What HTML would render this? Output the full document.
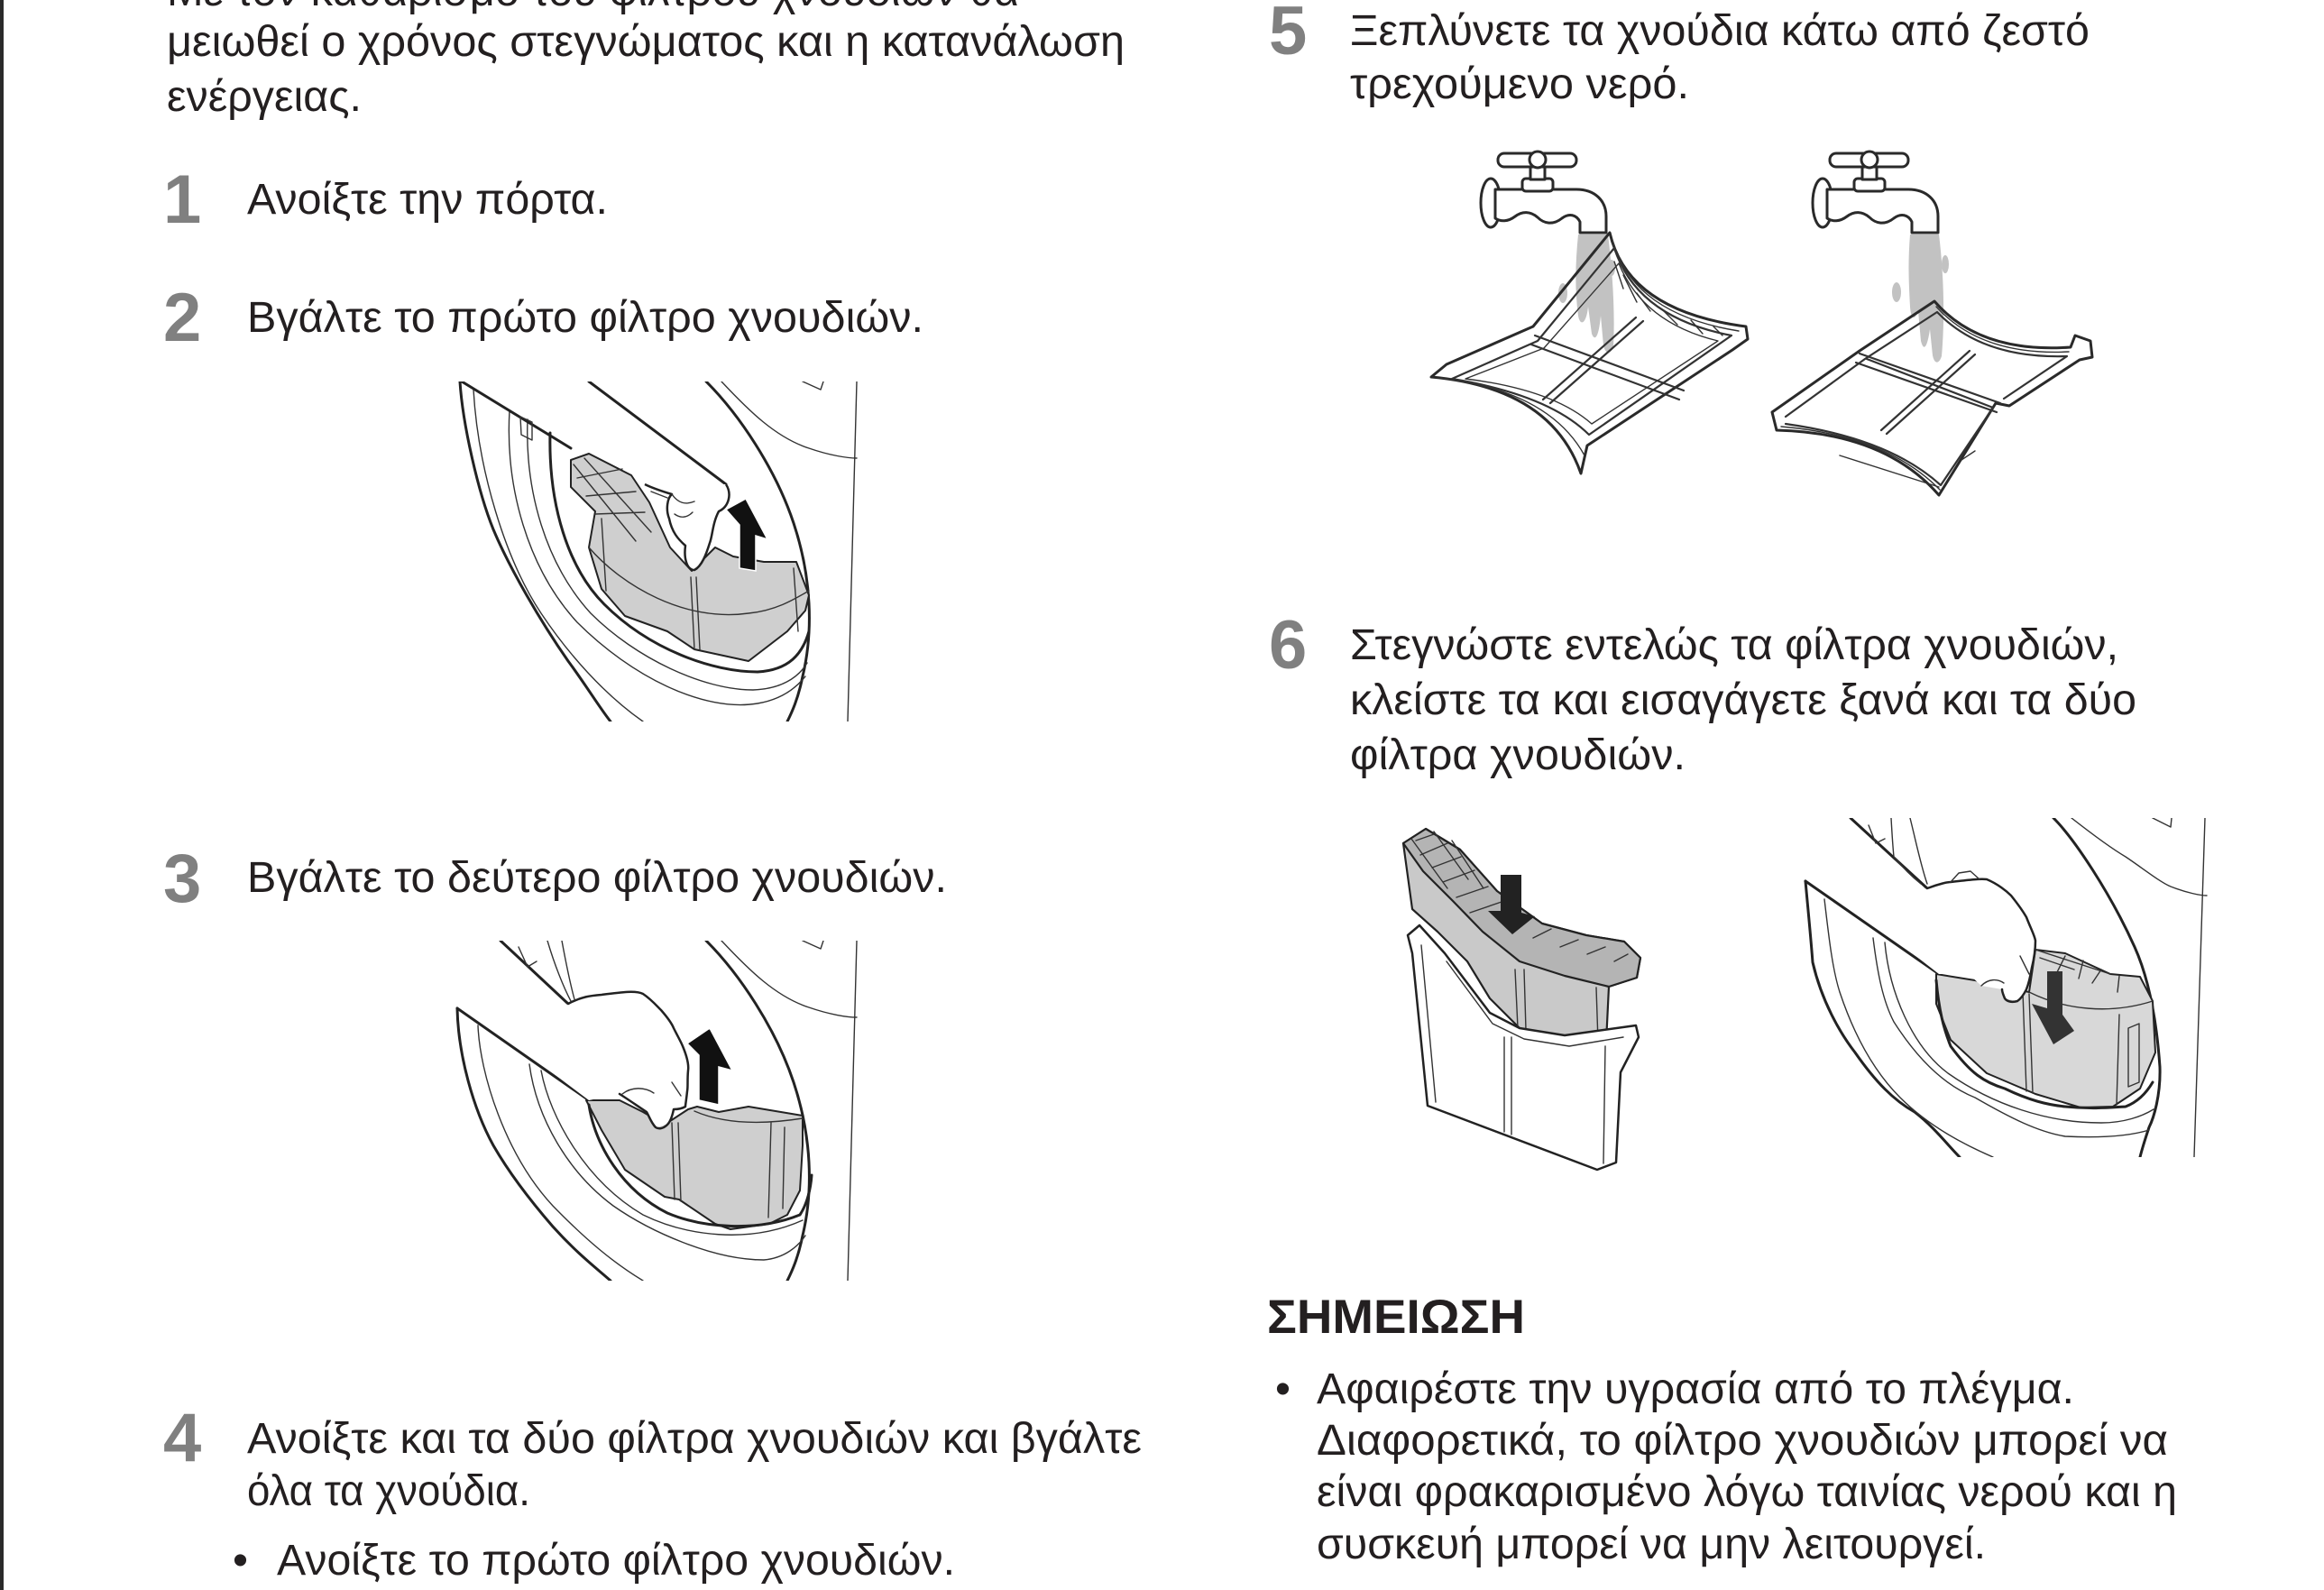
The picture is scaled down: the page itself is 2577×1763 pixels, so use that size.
<!DOCTYPE html>
<html>
<head>
<meta charset="utf-8">
<style>
html,body{margin:0;padding:0;background:#fff;}
body{width:2577px;height:1763px;overflow:hidden;position:relative;}
svg{position:absolute;left:0;top:0;}
.t{font-family:"Liberation Sans","DejaVu Sans",sans-serif;font-size:48.5px;fill:#231f20;}
.n{font-family:"Liberation Sans","DejaVu Sans",sans-serif;font-size:76px;font-weight:bold;fill:#808080;}
.h{font-family:"Liberation Sans","DejaVu Sans",sans-serif;font-size:53px;font-weight:bold;fill:#231f20;}
.k{fill:none;stroke:#222;stroke-width:3;stroke-linejoin:round;stroke-linecap:round;}
.s{fill:none;stroke:#333;stroke-width:1.4;stroke-linejoin:round;stroke-linecap:round;}
.m{fill:none;stroke:#333;stroke-width:2.2;stroke-linejoin:round;stroke-linecap:round;}
.g{fill:#cfcfcf;stroke:#222;stroke-width:2;stroke-linejoin:round;}
.w{fill:#fff;stroke:#222;stroke-width:2.5;stroke-linejoin:round;}
.f{fill:#fff;stroke:#2a2a2a;stroke-width:3;stroke-linejoin:round;}
</style>
</head>
<body>
<svg width="2577" height="1763" viewBox="0 0 2577 1763" xmlns="http://www.w3.org/2000/svg">
<defs>
<clipPath id="c1"><rect x="500" y="423" width="460" height="377"/></clipPath>
<clipPath id="c2"><rect x="500" y="1043" width="460" height="377"/></clipPath>
<clipPath id="c3"><rect x="1995" y="907" width="460" height="376"/></clipPath>
</defs>
<rect x="0" y="0" width="2577" height="1763" fill="#fff"/>
<rect x="0" y="0" width="4" height="1763" fill="#2a2a2a"/>

<!-- LEFT COLUMN TEXT -->
<text class="t" x="185" y="6" textLength="945" lengthAdjust="spacingAndGlyphs">Με τον καθαρισμό του φίλτρου χνουδιών θα</text>
<text class="t" x="185" y="62" textLength="1062" lengthAdjust="spacingAndGlyphs">μειωθεί ο χρόνος στεγνώματος και η κατανάλωση</text>
<text class="t" x="185" y="123" textLength="216" lengthAdjust="spacingAndGlyphs">ενέργειας.</text>

<text class="n" x="181" y="247">1</text>
<text class="t" x="274" y="237" textLength="400" lengthAdjust="spacingAndGlyphs">Ανοίξτε την πόρτα.</text>

<text class="n" x="181" y="378">2</text>
<text class="t" x="274" y="368" textLength="750" lengthAdjust="spacingAndGlyphs">Βγάλτε το πρώτο φίλτρο χνουδιών.</text>

<text class="n" x="181" y="1000">3</text>
<text class="t" x="274" y="989" textLength="776" lengthAdjust="spacingAndGlyphs">Βγάλτε το δεύτερο φίλτρο χνουδιών.</text>

<text class="n" x="181" y="1620">4</text>
<text class="t" x="274" y="1611" textLength="992" lengthAdjust="spacingAndGlyphs">Ανοίξτε και τα δύο φίλτρα χνουδιών και βγάλτε</text>
<text class="t" x="274" y="1669" textLength="314" lengthAdjust="spacingAndGlyphs">όλα τα χνούδια.</text>
<text class="t" x="258" y="1746">•</text>
<text class="t" x="307" y="1746" textLength="752" lengthAdjust="spacingAndGlyphs">Ανοίξτε το πρώτο φίλτρο χνουδιών.</text>

<!-- RIGHT COLUMN TEXT -->
<text class="n" x="1407" y="60">5</text>
<text class="t" x="1497" y="50" textLength="820" lengthAdjust="spacingAndGlyphs">Ξεπλύνετε τα χνούδια κάτω από ζεστό</text>
<text class="t" x="1497" y="109" textLength="376" lengthAdjust="spacingAndGlyphs">τρεχούμενο νερό.</text>

<text class="n" x="1407" y="741">6</text>
<text class="t" x="1497" y="731" textLength="852" lengthAdjust="spacingAndGlyphs">Στεγνώστε εντελώς τα φίλτρα χνουδιών,</text>
<text class="t" x="1497" y="792" textLength="872" lengthAdjust="spacingAndGlyphs">κλείστε τα και εισαγάγετε ξανά και τα δύο</text>
<text class="t" x="1497" y="853" textLength="372" lengthAdjust="spacingAndGlyphs">φίλτρα χνουδιών.</text>

<text class="h" x="1405" y="1478" textLength="286" lengthAdjust="spacingAndGlyphs">ΣΗΜΕΙΩΣΗ</text>
<text class="t" x="1414" y="1556">•</text>
<text class="t" x="1460" y="1556" textLength="840" lengthAdjust="spacingAndGlyphs">Αφαιρέστε την υγρασία από το πλέγμα.</text>
<text class="t" x="1460" y="1613" textLength="944" lengthAdjust="spacingAndGlyphs">Διαφορετικά, το φίλτρο χνουδιών μπορεί να</text>
<text class="t" x="1460" y="1670" textLength="954" lengthAdjust="spacingAndGlyphs">είναι φρακαρισμένο λόγω ταινίας νερού και η</text>
<text class="t" x="1460" y="1728" textLength="742" lengthAdjust="spacingAndGlyphs">συσκευή μπορεί να μην λειτουργεί.</text>

<!-- IMAGE 1 : step 2 -->
<g clip-path="url(#c1)">
  <path class="k" d="M783,423 C820,460 860,520 880,580 C900,640 902,700 890,750 C885,775 878,790 873,800"/>
  <path class="s" d="M800,423 C830,455 860,485 897,497 C920,505 940,508 950,508"/>
  <path class="s" d="M890,423 L910,432 L913,423"/>
  <path class="s" d="M950,423 L940,800"/>
  <path class="k" d="M510,423 C513,470 530,545 547,587 C565,630 600,690 630,733 C650,760 665,785 677,800"/>
  <path class="s" d="M525,432 C530,520 560,620 600,680 C630,725 670,770 713,800"/>
  <path class="s" d="M565,455 C560,540 585,630 640,690 C700,750 780,790 840,780 C870,775 885,760 893,750"/>
  <path class="s" d="M585,465 C582,545 605,625 655,680 C705,730 780,765 835,765 C865,764 885,752 895,735"/>
  <path class="k" d="M610,480 C608,560 630,630 670,670 C720,720 790,745 840,745 C875,743 890,725 897,700"/>
  <path class="k" d="M512,423 L633,497"/>
  <path class="s" d="M577,462 L590,468 L590,488 L578,482 Z"/>
  <path class="g" d="M633,510 L653,503 L700,527 L720,557 L743,607 L767,633 L793,607 L813,617 L847,623 L883,623 L897,660 L893,677 L873,700 L847,720 L830,733 L770,720 L740,700 L693,683 L667,653 L653,607 L660,567 L633,540 Z"/>
  <path class="s" d="M636,515 L705,600 M648,508 L722,590 M640,530 L690,520 M650,550 L705,545 M660,570 L715,568"/>
  <path class="s" d="M653,607 C690,650 760,690 830,680 C860,677 880,665 897,655"/>
  <path class="s" d="M667,575 L672,655 M766,640 L770,720 M772,640 L776,720 M880,630 L885,700"/>
  <path class="k" d="M653,423 L805,537"/>
  <path class="w" d="M805,537 C812,548 808,562 797,567 C790,580 790,595 787,602 C783,615 778,628 770,632 C762,632 758,620 760,605 C752,598 745,590 742,575 C738,565 740,552 745,548 C735,545 725,542 715,537"/>
  <path class="s" d="M745,548 C752,558 760,560 770,556 M748,570 C755,575 762,574 768,568 M722,545 L740,552"/>
  <polygon points="827,553 851,598 838,594 838,633 820,630 820,582 805,565" fill="#111" stroke="#fff" stroke-width="1.5"/>
</g>

<!-- IMAGE 2 : step 3 -->
<g clip-path="url(#c2)">
  <path class="k" d="M783,1043 C820,1080 860,1140 880,1200 C900,1260 902,1320 890,1370 C885,1395 878,1410 873,1420"/>
  <path class="s" d="M800,1043 C830,1075 860,1105 897,1117 C920,1125 940,1128 950,1128"/>
  <path class="s" d="M890,1043 L910,1052 L913,1043"/>
  <path class="s" d="M950,1043 L940,1420"/>
  <path class="k" d="M507,1118 C508,1170 525,1230 547,1270 C570,1310 600,1345 613,1360 C640,1390 660,1405 677,1420"/>
  <path class="s" d="M530,1137 C532,1190 560,1280 613,1337 C650,1375 680,1400 713,1420"/>
  <path class="s" d="M587,1180 C595,1240 630,1300 680,1337 C720,1365 790,1397 847,1397 C870,1395 885,1382 893,1370"/>
  <path class="s" d="M600,1187 C610,1240 650,1310 713,1347 C760,1370 830,1380 890,1353"/>
  <path class="k" d="M507,1118 L653,1220"/>
  <path class="k" d="M555,1043 L630,1113"/>
  <path class="s" d="M607,1043 C615,1070 625,1095 633,1110 M623,1043 C628,1070 632,1090 637,1108 M575,1050 L585,1072 L595,1066"/>
  <path class="g" d="M650,1220 L687,1220 L713,1233 L737,1247 L763,1230 L773,1227 L797,1233 L830,1227 L890,1237 L890,1270 L887,1320 L873,1347 L853,1357 L810,1363 L793,1357 L753,1330 L737,1327 L693,1297 L667,1253 Z"/>
  <path class="s" d="M745,1245 L748,1330 M752,1245 L755,1332 M855,1245 L852,1350 M870,1250 L868,1340"/>
  <path class="s" d="M770,1232 C800,1245 840,1248 890,1240"/>
  <path class="k" d="M653,1225 C660,1270 690,1320 740,1345 C780,1362 840,1366 887,1347 C895,1335 899,1318 900,1303"/>
  <path d="M630,1113 L667,1103 L713,1102 L733,1120 L747,1140 L757,1160 L763,1187 L762,1210 L760,1227 L747,1230 L740,1247 L727,1250 L717,1233 L687,1213 L653,1220 L560,1150 Z" fill="#fff"/>
  <path class="k" style="stroke-width:2.5" d="M630,1113 C645,1105 655,1104 667,1103 C690,1100 705,1098 713,1102 C722,1108 728,1115 733,1120 C740,1128 745,1135 747,1140 C752,1150 755,1155 757,1160 C762,1172 764,1180 763,1187 C762,1198 763,1205 762,1210 C761,1220 760,1225 760,1227 C755,1230 750,1230 747,1230 C745,1240 742,1245 740,1247 C735,1252 730,1252 727,1250 C722,1245 720,1238 717,1233 C705,1225 695,1218 687,1213"/>
  <path class="s" d="M690,1213 C700,1205 715,1205 725,1212 M745,1200 L755,1215"/>
  <polygon points="787,1140 812,1187 797,1183 797,1225 775,1220 775,1170 762,1157" fill="#111" stroke="#fff" stroke-width="1.5"/>
</g>

<!-- FAUCETS (step 5) -->
<g id="fau">
  <ellipse class="f" cx="1653" cy="225" rx="11" ry="27"/>
  <path class="f" d="M1658,210 L1748,210 C1768,210 1781,222 1781,240 L1781,258 L1752,258 L1752,246 C1748,238 1740,236 1732,242 C1722,250 1712,248 1705,241 C1697,234 1688,234 1680,240 C1672,246 1664,246 1658,242 Z"/>
  <rect class="f" x="1688" y="198" width="34" height="14" rx="4"/>
  <rect class="f" x="1697" y="184" width="16" height="15"/>
  <rect class="f" x="1661" y="170" width="87" height="15" rx="7"/>
  <circle class="f" cx="1705" cy="177" r="9"/>
</g>
<use href="#fau" transform="translate(368,0)"/>
<path d="M1750,260 L1783,260 C1788,300 1791,345 1789,385 C1786,393 1780,393 1778,383 L1775,350 C1773,372 1769,380 1765,370 L1761,340 C1759,360 1752,362 1750,350 C1746,320 1747,290 1750,260 Z" fill="#c2c2c2"/>
<ellipse cx="1733" cy="325" rx="5" ry="11" fill="#c2c2c2"/>
<ellipse cx="1787" cy="297" rx="4" ry="9" fill="#c2c2c2"/>
<path d="M2118,260 L2150,260 C2155,300 2157,350 2153,395 C2150,404 2145,404 2143,394 L2140,365 C2137,386 2133,390 2130,378 L2127,345 C2123,356 2119,354 2118,340 C2116,305 2116,285 2118,260 Z" fill="#c2c2c2"/>
<ellipse cx="2103" cy="324" rx="5" ry="11" fill="#c2c2c2"/>
<ellipse cx="2157" cy="293" rx="4" ry="10" fill="#c2c2c2"/>

<!-- left rinsing filter -->
<g>
  <path class="f" fill-opacity="0" d="M1587,418 L1604,404 L1700,362 L1785,258 Q1805,345 1936,362 L1938,376 L1921,388 L1760,494 L1753,525 Q1720,430 1587,418 Z"/>
  <path class="m" d="M1610,420 L1705,378 L1790,275 Q1815,352 1920,372 L1762,482 Q1718,438 1610,420 Z"/>
  <path class="s" d="M1625,420 L1712,386 L1795,292 Q1822,358 1905,378 L1765,470 Q1722,432 1625,420 Z"/>
  <path class="s" d="M1788,266 Q1810,348 1928,367 M1757,505 Q1718,434 1598,419"/>
  <path class="m" d="M1702,372 L1867,433 M1698,382 L1862,443"/>
  <path class="m" d="M1814,352 L1711,443 M1822,356 L1719,447"/>
  <path class="s" d="M1790,290 L1800,320 M1800,305 L1815,335 M1815,325 L1830,345 M1845,345 L1860,360 M1875,355 L1888,370 M1900,362 L1910,372"/>
</g>
<!-- right rinsing filter -->
<g>
  <path class="f" fill-opacity="0" d="M1965,457 L2062,389 L2145,334 Q2195,392 2296,385 L2301,372 L2318,378 L2320,396 L2306,399 L2228,450 L2213,447 L2150,549 Q2090,480 1970,477 Z"/>
  <path class="m" d="M1980,462 L2068,398 L2148,346 Q2198,398 2292,395 L2222,442"/>
  <path class="m" d="M2070,398 L2210,452 L2152,538 Q2095,486 1980,470"/>
  <path class="s" d="M2147,340 Q2197,395 2294,390 M2151,543 Q2092,483 1975,473"/>
  <path class="m" d="M2062,392 L2218,447 M2058,402 L2214,457"/>
  <path class="m" d="M2184,389 L2086,477 M2190,393 L2092,481"/>
  <path class="s" d="M2040,505 L2150,540 M2175,510 L2190,500"/>
</g>

<!-- STEP 6 left filter -->
<g>
  <path d="M1556,935 L1581,919 L1619,942 L1660,988 L1710,1024 L1759,1037 L1801,1044 L1819,1062 L1815,1084 L1784,1094 L1781,1156 L1735,1153 L1685,1140 L1652,1107 L1627,1066 L1594,1033 L1566,1008 Z" fill="#c9c9c9" stroke="#222" stroke-width="2.2" stroke-linejoin="round"/>
  <path d="M1556,935 L1581,919 L1619,942 L1660,988 L1710,1024 L1759,1037 L1801,1044 L1819,1062 L1815,1084 L1784,1094 L1735,1082 L1685,1066 L1644,1033 L1611,999 L1578,966 Z" fill="#b4b4b4" stroke="#222" stroke-width="2.2" stroke-linejoin="round"/>
  <path class="s" d="M1570,932 L1590,925 M1575,948 L1605,935 M1588,962 L1620,950 M1600,978 L1635,965 M1615,995 L1650,983 M1630,1012 L1665,1000 M1565,930 L1605,985 M1590,922 L1628,975 M1610,932 L1645,985 M1700,1040 L1720,1030 M1730,1050 L1750,1042 M1760,1058 L1780,1050 M1790,1066 L1805,1058"/>
  <path class="s" d="M1680,1075 L1683,1140 M1690,1075 L1692,1142 M1770,1095 L1772,1155"/>
  <path d="M1561,1037 L1574,1026 L1602,1057 L1652,1123 L1685,1140 L1735,1148 L1814,1137 L1817,1150 L1797,1189 L1792,1289 L1771,1297 L1583,1226 L1566,1057 Z" fill="#fff" stroke="#222" stroke-width="2.5" stroke-linejoin="round"/>
  <path class="s" d="M1576,1048 L1592,1222 M1668,1150 L1668,1255 M1676,1150 L1676,1258 M1780,1160 L1778,1290 M1604,1066 L1655,1135 L1690,1152 L1740,1160 L1800,1150"/>
  <polygon points="1664,970 1687,970 1687,1012 1702,1016 1677,1036 1650,1010 1664,1010" fill="#222"/>
</g>

<!-- STEP 6 right door -->
<g clip-path="url(#c3)">
  <path class="k" d="M2277,907 C2300,930 2340,990 2367,1050 C2385,1090 2392,1140 2395,1183 C2396,1215 2388,1240 2383,1250 C2378,1265 2375,1275 2373,1283"/>
  <path class="s" d="M2297,907 C2320,925 2340,940 2357,950 C2375,962 2395,978 2407,983 C2425,990 2440,993 2447,993"/>
  <path class="s" d="M2387,907 L2407,917 L2408,907"/>
  <path class="s" d="M2445,907 L2433,1283"/>
  <path class="k" d="M2002,977 C2005,1010 2008,1040 2010,1067 C2020,1110 2040,1145 2057,1167 C2080,1200 2100,1220 2123,1233 C2145,1250 2160,1270 2173,1283"/>
  <path class="s" d="M2023,997 C2028,1040 2032,1075 2040,1100 C2060,1160 2085,1195 2107,1217 C2140,1250 2180,1270 2210,1283"/>
  <path class="s" d="M2077,1040 C2082,1080 2088,1110 2100,1133 C2130,1180 2160,1205 2190,1217 C2230,1240 2260,1255 2290,1260 C2330,1262 2360,1260 2383,1253"/>
  <path class="s" d="M2090,1045 C2095,1100 2120,1160 2160,1190 C2210,1225 2270,1245 2330,1245 C2355,1245 2375,1238 2388,1230"/>
  <path class="k" d="M2002,977 L2150,1080"/>
  <path class="k" d="M2052,907 L2137,985"/>
  <path class="s" d="M2097,907 C2098,925 2099,940 2100,950 C2110,962 2120,972 2130,980 M2118,907 C2125,935 2130,960 2137,980 M2072,915 L2080,935 L2090,930"/>
  <path d="M2147,1080 L2190,1087 L2250,1100 L2257,1053 L2290,1057 L2340,1080 L2373,1083 L2387,1110 L2390,1167 L2373,1207 L2343,1227 L2307,1228 L2257,1213 L2203,1190 L2163,1153 L2147,1113 Z" fill="#d8d8d8" stroke="#222" stroke-width="2" stroke-linejoin="round"/>
  <path class="s" d="M2257,1053 L2340,1080 M2262,1062 L2300,1075 M2290,1060 L2280,1080 M2310,1065 L2305,1085 M2330,1075 L2320,1090 M2350,1082 L2348,1100"/>
  <path class="s" d="M2250,1100 C2290,1120 2340,1125 2387,1110"/>
  <path class="s" d="M2243,1100 L2247,1210 M2250,1102 L2254,1212 M2350,1125 L2347,1225 M2360,1140 L2372,1135 L2372,1200 L2360,1205 Z"/>
  <path class="k" d="M2147,1087 C2150,1120 2155,1140 2163,1160 C2185,1190 2200,1200 2223,1207 C2250,1220 2270,1225 2290,1227 C2320,1230 2340,1228 2357,1227 C2370,1222 2380,1212 2387,1200"/>
  <path d="M2137,985 L2163,978 L2203,975 L2230,993 L2247,1017 L2257,1043 L2253,1073 L2247,1097 L2237,1110 L2223,1107 L2220,1097 L2197,1093 L2183,1080 L2150,1080 L2060,1010 Z" fill="#fff"/>
  <path class="k" style="stroke-width:2.5" d="M2137,985 C2150,980 2160,978 2163,978 C2180,976 2195,974 2203,975 C2215,980 2225,988 2230,993 C2238,1003 2243,1010 2247,1017 C2252,1030 2256,1037 2257,1043 C2257,1055 2255,1065 2253,1073 C2251,1085 2249,1092 2247,1097 C2243,1105 2240,1108 2237,1110 C2230,1112 2225,1110 2223,1107 C2221,1102 2220,1100 2220,1097"/>
  <path class="s" d="M2197,1093 C2205,1085 2215,1085 2222,1090 M2240,1060 L2250,1080 M2163,978 L2172,968 L2185,966 L2195,975"/>
  <polygon points="2270,1077 2287,1077 2287,1125 2300,1143 2277,1158 2253,1113 2270,1118" fill="#333"/>
</g>
</svg>
</body>
</html>
